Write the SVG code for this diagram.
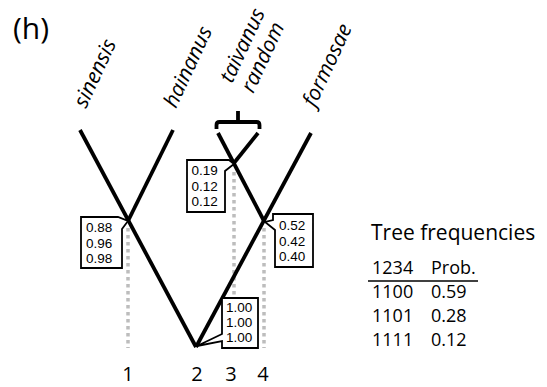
<svg xmlns="http://www.w3.org/2000/svg" width="547" height="387" viewBox="0 0 547 387">
<style>
  .t { font-family: "Open Sans", "Liberation Sans", sans-serif; fill: #000; }
  .lab { font-family: "Open Sans", "Liberation Sans", sans-serif; font-style: italic; font-size: 21px; fill: #000; }
  .num { font-family: "Liberation Sans", Arial, sans-serif; font-size: 13.5px; fill: #000; }
  .br { stroke: #000; stroke-width: 3.8; fill: none; stroke-linecap: butt; }
  .dot { stroke: #bdbdbd; stroke-width: 3.5; stroke-dasharray: 3.5 3.5; fill: none; }
  .box { fill: #fff; stroke: #000; stroke-width: 1.8; stroke-linejoin: miter; }
</style>
<rect width="547" height="387" fill="#fff"/>

<text class="t" x="13" y="39" font-size="30">(h)</text>

<g id="labels">
  <text id="sinensis" class="lab" transform="translate(86,109) rotate(-65)">sinensis</text>
  <text id="hainanus" class="lab" transform="translate(176,109) rotate(-65)">hainanus</text>
  <text id="taivanus-random" class="lab" transform="translate(232,84) rotate(-65)">taivanus<tspan x="0" dy="23.5">random</tspan></text>
  <text id="formosae" class="lab" transform="translate(315,108) rotate(-65)">formosae</text>
</g>

<g id="guides">
  <line class="dot" x1="128" y1="228" x2="128" y2="348"/>
  <line class="dot" x1="234" y1="172" x2="234" y2="348"/>
  <line class="dot" x1="264" y1="228" x2="264" y2="348"/>
</g>

<g id="connectors">
  <line class="br" x1="80" y1="130" x2="196" y2="347"/>
  <line class="br" x1="173" y1="130" x2="128" y2="221"/>
  <line class="br" x1="311" y1="133" x2="196" y2="347"/>
  <line class="br" x1="218" y1="133" x2="264" y2="221"/>
  <line class="br" x1="258" y1="133" x2="234" y2="163"/>
  <path class="br" stroke-width="3" d="M216.5,129 L216.5,125 Q216.5,122 219.5,122 L256.5,122 Q259.5,122 259.5,125 L259.5,129 M238,122 L238,111"/>
</g>

<g id="node-sinensis-hainanus">
  <path class="box" d="M81,217 L118,217 L128,221 L122,229 L122,268 L81,268 Z"/>
  <text class="num" x="86" y="232">0.88<tspan x="86" dy="15.5">0.96</tspan><tspan x="86" dy="15.5">0.98</tspan></text>
</g>

<g id="node-taivanus-random">
  <path class="box" d="M187,160 L229,160 L234,164 L225,171 L225,212 L187,212 Z"/>
  <text class="num" x="191.5" y="175">0.19<tspan x="191.5" dy="15.5">0.12</tspan><tspan x="191.5" dy="15.5">0.12</tspan></text>
</g>

<g id="node-taivanus-formosae">
  <path class="box" d="M273,214 L313,214 L313,267 L275,267 L275,230 L265,222 L273,220 Z"/>
  <text class="num" x="279" y="230">0.52<tspan x="279" dy="15.5">0.42</tspan><tspan x="279" dy="15.5">0.40</tspan></text>
</g>

<g id="node-root">
  <path class="box" d="M222,298 L258,298 L258,348 L222,348 L222,341 L197,346 L222,334 Z"/>
  <text class="num" x="226" y="312">1.00<tspan x="226" dy="15">1.00</tspan><tspan x="226" dy="15">1.00</tspan></text>
</g>

<g id="axis" class="t" font-size="20" text-anchor="middle">
  <text x="128" y="381">1</text>
  <text x="197" y="381">2</text>
  <text x="231" y="381">3</text>
  <text x="263" y="381">4</text>
</g>

<g id="table" class="t">
  <text x="371" y="240" font-size="21">Tree frequencies</text>
  <text x="372" y="274" font-size="18">1234</text>
  <text x="431" y="274" font-size="18">Prob.</text>
  <line x1="368" y1="281" x2="478" y2="281" stroke="#000" stroke-width="1.5"/>
  <text x="372" y="298" font-size="18">1100</text>
  <text x="431" y="298" font-size="18">0.59</text>
  <text x="372" y="322" font-size="18">1101</text>
  <text x="431" y="322" font-size="18">0.28</text>
  <text x="372" y="346" font-size="18">1111</text>
  <text x="431" y="346" font-size="18">0.12</text>
</g>
</svg>
